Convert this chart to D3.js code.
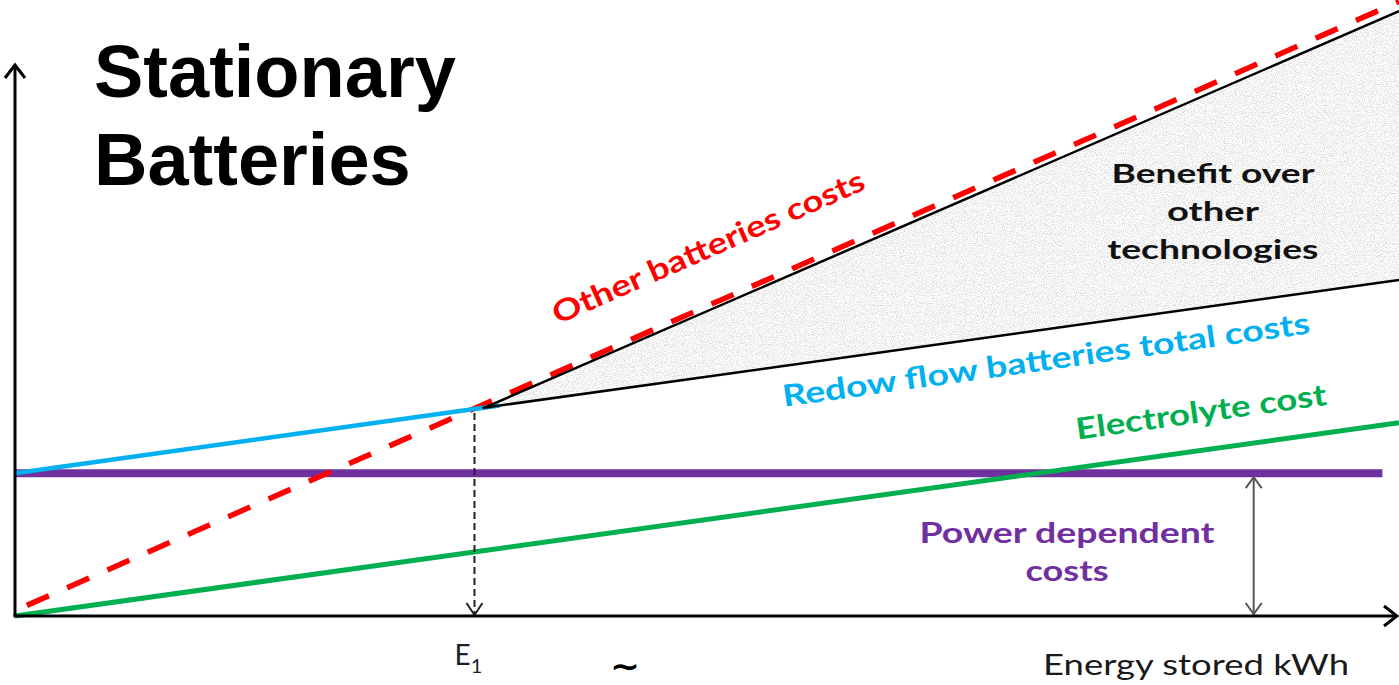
<!DOCTYPE html>
<html>
<head>
<meta charset="utf-8">
<script src="https://cdn.jsdelivr.net/npm/d3@7"></script>
<style>
  html, body { margin: 0; padding: 0; background: #ffffff; }
  svg { display: block; }
</style>
</head>
<body>
<svg id="chart" width="1399" height="685"></svg>
<script>
// ---- data (arbitrary cost units vs. energy stored) ----
const energyRange = [0, 100];            // energy stored, both ends of the x axis
const powerCost = 23.8;                  // flat, power dependent costs
const electrolyteCost = [0, 32.2];       // electrolyte cost at the two energy ends
const otherBatteriesCost = [0.9, 102.4]; // other batteries costs at the two energy ends
const E1 = 33.2;                         // break-even energy
const blueEnergy = [0, 35];              // part of the flow battery total drawn in blue
const benefitEnergy = [33.8, 100];       // span of the benefit wedge
const benefitUpperCost = [34.6, 100.8];  // upper edge of the benefit wedge
const powerArrowEnergy = 89.5;           // where the power-cost span is marked

const titleLines = ["Stationary", "Batteries"];
const benefitLines = ["Benefit over", "other", "technologies"];
const powerLines = ["Power dependent", "costs"];

// ---- scales ----
const W = 1399, H = 685;
const x = d3.scaleLinear().domain(energyRange).range([15, 1399]);
const y = d3.scaleLinear().domain([0, 100]).range([616, 16]);

const electrolyte = d3.scaleLinear().domain(energyRange).range(electrolyteCost);
const other = d3.scaleLinear().domain(energyRange).range(otherBatteriesCost);
const total = e => powerCost + electrolyte(e);
const benefitTop = d3.scaleLinear().domain(benefitEnergy).range(benefitUpperCost);

const svg = d3.select("#chart");
const defs = svg.append("defs");

// grainy light-grey fill for the benefit wedge
const f = defs.append("filter").attr("id", "grain")
  .attr("x", "0%").attr("y", "0%").attr("width", "100%").attr("height", "100%");
f.append("feTurbulence").attr("type", "fractalNoise").attr("baseFrequency", 0.9)
  .attr("numOctaves", 2).attr("seed", 7).attr("result", "noise");
f.append("feColorMatrix").attr("in", "noise").attr("type", "matrix")
  .attr("values", "1 0 0 0 0  1 0 0 0 0  1 0 0 0 0  0 0 0 0 1")
  .attr("result", "gray");
const ct = f.append("feComponentTransfer").attr("in", "gray").attr("result", "tone");
["feFuncR", "feFuncG", "feFuncB"].forEach(n =>
  ct.append(n).attr("type", "linear").attr("slope", 0.9).attr("intercept", 0.46));
f.append("feComposite").attr("in", "tone").attr("in2", "SourceGraphic").attr("operator", "in");

// open V arrowheads
function arrowMarker(id, color, len, half, width) {
  defs.append("marker").attr("id", id)
    .attr("markerUnits", "userSpaceOnUse")
    .attr("markerWidth", 40).attr("markerHeight", 40)
    .attr("viewBox", "-20 -20 40 40")
    .attr("refX", 0).attr("refY", 0)
    .attr("orient", "auto-start-reverse")
    .style("overflow", "visible")
    .append("path")
    .attr("d", `M${-len},${-half} L0,0 L${-len},${half}`)
    .attr("fill", "none").attr("stroke", color)
    .attr("stroke-width", width).attr("stroke-linejoin", "miter");
}
arrowMarker("axisArrow", "#000", 13, 10, 3);
arrowMarker("dropArrow", "#222", 12, 8, 2);
arrowMarker("spanArrow", "#555", 11, 8, 2);

const line = d3.line().x(d => x(d[0])).y(d => y(d[1]));

// benefit wedge
const area = d3.area()
  .x(d => x(d))
  .y0(d => y(total(d)))
  .y1(d => y(benefitTop(d)));
svg.append("path").datum(benefitEnergy)
  .attr("d", area)
  .attr("fill", "#e3e3e3")
  .attr("filter", "url(#grain)");

// power dependent costs
svg.append("path")
  .datum([[energyRange[0], powerCost], [98.8, powerCost]])
  .attr("d", line).attr("fill", "none")
  .attr("stroke", "#7030a0").attr("stroke-width", 8);

// electrolyte cost
svg.append("path")
  .datum(energyRange.map(e => [e, electrolyte(e)]))
  .attr("d", line).attr("fill", "none")
  .attr("stroke", "#00b050").attr("stroke-width", 5);

// other batteries costs
svg.append("path")
  .datum(energyRange.map(e => [e, other(e)]))
  .attr("d", line).attr("fill", "none")
  .attr("stroke", "#ff0000").attr("stroke-width", 5.5)
  .attr("stroke-dasharray", "24 20").attr("stroke-dashoffset", 31);

// flow battery total costs up to E1
svg.append("path")
  .datum(blueEnergy.map(e => [e, total(e)]))
  .attr("d", line).attr("fill", "none")
  .attr("stroke", "#00b0f0").attr("stroke-width", 4.5);

// edges of the benefit wedge
svg.append("path")
  .datum(benefitEnergy.map(e => [e, benefitTop(e)]))
  .attr("d", line).attr("fill", "none")
  .attr("stroke", "#000").attr("stroke-width", 2.5);
svg.append("path")
  .datum(benefitEnergy.map(e => [e, total(e)]))
  .attr("d", line).attr("fill", "none")
  .attr("stroke", "#000").attr("stroke-width", 2.5);

// drop line at E1
svg.append("line")
  .attr("x1", x(E1)).attr("y1", y(total(E1)) + 4)
  .attr("x2", x(E1)).attr("y2", y(0) - 1)
  .attr("stroke", "#222").attr("stroke-width", 2)
  .attr("stroke-dasharray", "7 4")
  .attr("marker-end", "url(#dropArrow)");

// span of the power dependent costs
svg.append("line")
  .attr("x1", x(powerArrowEnergy)).attr("y1", y(powerCost) + 4)
  .attr("x2", x(powerArrowEnergy)).attr("y2", y(0) - 2)
  .attr("stroke", "#555").attr("stroke-width", 2)
  .attr("marker-start", "url(#spanArrow)")
  .attr("marker-end", "url(#spanArrow)");

// axes
svg.append("line")
  .attr("x1", x(0)).attr("y1", y(0)).attr("x2", x(0)).attr("y2", 65)
  .attr("stroke", "#000").attr("stroke-width", 3)
  .attr("marker-end", "url(#axisArrow)");
svg.append("line")
  .attr("x1", x(0) - 1.5).attr("y1", y(0)).attr("x2", x(100) - 2).attr("y2", y(0))
  .attr("stroke", "#000").attr("stroke-width", 3)
  .attr("marker-end", "url(#axisArrow)");

// ---- labels ----
const labelFont = "Lato, 'Open Sans', sans-serif";

function lineLabel(text, fn, e, dy, color, len) {
  const px = x(e), py = y(fn(e));
  const e2 = e + 1;
  const ang = Math.atan2(y(fn(e2)) - py, x(e2) - px) * 180 / Math.PI;
  svg.append("text")
    .attr("transform", `translate(${px},${py + dy}) rotate(${ang})`)
    .attr("text-anchor", "middle")
    .attr("font-family", labelFont).attr("font-weight", 700)
    .attr("font-size", 30).attr("fill", color)
    .attr("textLength", len).attr("lengthAdjust", "spacingAndGlyphs")
    .text(text);
}
lineLabel("Other batteries costs", other, 50.4, -47, "#ff0000", 338);
lineLabel("Redow flow batteries total costs", total, 74.6, 41, "#00b0f0", 532);
lineLabel("Electrolyte cost", electrolyte, 85.8, -28, "#00b050", 253);

const benefitLens = [203, 92, 211];
benefitLines.forEach((t, i) => {
  svg.append("text")
    .attr("x", 1213).attr("y", 183 + i * 38)
    .attr("text-anchor", "middle")
    .attr("font-family", labelFont).attr("font-weight", 700)
    .attr("font-size", 27).attr("fill", "#111")
    .attr("textLength", benefitLens[i]).attr("lengthAdjust", "spacingAndGlyphs")
    .text(t);
});

const powerLens = [295, 83];
powerLines.forEach((t, i) => {
  svg.append("text")
    .attr("x", 1067).attr("y", 543 + i * 38)
    .attr("text-anchor", "middle")
    .attr("font-family", labelFont).attr("font-weight", 700)
    .attr("font-size", 28).attr("fill", "#7030a0")
    .attr("textLength", powerLens[i]).attr("lengthAdjust", "spacingAndGlyphs")
    .text(t);
});

// E1 tick label
const e1 = svg.append("text")
  .attr("x", x(E1) - 20).attr("y", 665)
  .attr("font-family", labelFont).attr("font-size", 28).attr("fill", "#1c1c2c");
e1.append("tspan").text("E");
e1.append("tspan").attr("dy", 8).attr("font-size", 20).text("1");

// axis title
svg.append("text")
  .attr("x", 1043).attr("y", 675)
  .attr("font-family", labelFont).attr("font-size", 28).attr("fill", "#1a1a1a")
  .attr("textLength", 306).attr("lengthAdjust", "spacingAndGlyphs")
  .text("Energy stored kWh");

// break mark on the energy axis
svg.append("text")
  .attr("x", 625).attr("y", 677)
  .attr("text-anchor", "middle")
  .attr("font-family", "'DejaVu Sans', sans-serif").attr("font-weight", 700)
  .attr("font-size", 32).attr("fill", "#000")
  .attr("textLength", 30).attr("lengthAdjust", "spacingAndGlyphs")
  .text("~");

// title
titleLines.forEach((t, i) => {
  svg.append("text")
    .attr("x", 94).attr("y", 97 + i * 88)
    .attr("font-family", "'Liberation Sans', Arial, sans-serif").attr("font-weight", 700)
    .attr("font-size", 74).attr("fill", "#000")
    .text(t);
});
</script>
</body>
</html>
